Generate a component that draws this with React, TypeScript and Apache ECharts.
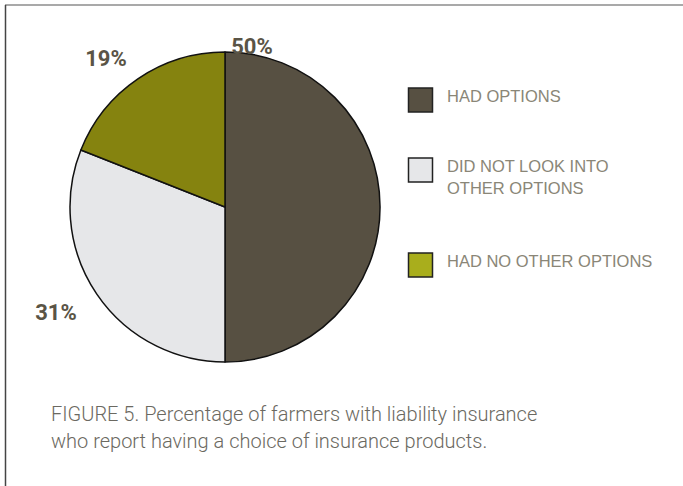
import React, { useEffect, useRef } from "react";
import * as echarts from "echarts";

const categories = ["HAD OPTIONS", "DID NOT LOOK INTO\nOTHER OPTIONS", "HAD NO OTHER OPTIONS"];
const values = [50, 31, 19];
const sliceColors = ["#575042", "#e6e7e9", "#85830f"];
const legendColors = ["#575042", "#e6e7e9", "#a9ae1c"];
const captionLines = [
  "FIGURE 5. Percentage of farmers with liability insurance",
  "who report having a choice of insurance products.",
];

const labelPositions = [
  [252, 46],
  [56, 312],
  [106, 58],
];
const legendTops = [88, 158, 253];

export default function App() {
  const ref = useRef<HTMLDivElement>(null);
  useEffect(() => {
    if (!ref.current) return;
    const chart = echarts.init(ref.current, null, { renderer: "svg" });
    const legendGraphics: any[] = [];
    categories.forEach((name, i) => {
      legendGraphics.push({
        type: "rect",
        shape: { x: 408.5, y: legendTops[i], width: 24, height: 24 },
        style: { fill: legendColors[i], stroke: "#222", lineWidth: 1.5 },
      });
      legendGraphics.push({
        type: "text",
        x: 447,
        y: legendTops[i] - 3,
        style: {
          text: name,
          fontFamily: "Liberation Sans, Arial, sans-serif",
          fontSize: 16.5,
          lineHeight: 22,
          fill: "#8a8677",
          verticalAlign: "top",
          align: "left",
        },
      });
    });
    chart.setOption({
      animation: false,
      backgroundColor: "#ffffff",
      title: {
        text: captionLines.join("\n"),
        left: 46,
        top: 395,
        textStyle: {
          fontFamily: "Roboto, sans-serif",
          fontWeight: 300,
          fontSize: 20,
          lineHeight: 27,
          color: "#6b6961",
        },
      },
      graphic: [
        {
          type: "line",
          shape: { x1: 5, y1: 5, x2: 683, y2: 5 },
          style: { stroke: "#8c8c8c", lineWidth: 1.5 },
        },
        {
          type: "line",
          shape: { x1: 5.5, y1: 5, x2: 5.5, y2: 486 },
          style: { stroke: "#444", lineWidth: 1.5 },
        },
        ...legendGraphics,
      ],
      series: [
        {
          type: "pie",
          center: [225, 207],
          radius: 155,
          startAngle: 90,
          clockwise: true,
          label: {
            show: true,
            formatter: (p: any) => p.value + "%",
            fontFamily: "Roboto, sans-serif",
            fontWeight: "bold",
            fontSize: 22,
            color: "#5a5446",
            overflow: "none",
            width: 80,
          },
          labelLine: { show: false },
          labelLayout: (params: any) => ({
            x: labelPositions[params.dataIndex][0],
            y: labelPositions[params.dataIndex][1],
            align: "center",
            verticalAlign: "middle",
          }),
          emphasis: { disabled: true },
          itemStyle: { borderColor: "#111", borderWidth: 1.5 },
          data: categories.map((name, i) => ({
            name,
            value: values[i],
            itemStyle: { color: sliceColors[i] },
          })),
        },
      ],
    });
    return () => chart.dispose();
  }, []);
  return (
    <div
      ref={ref}
      style={{ position: "fixed", left: 0, top: 0, width: 683, height: 486 }}
    />
  );
}
